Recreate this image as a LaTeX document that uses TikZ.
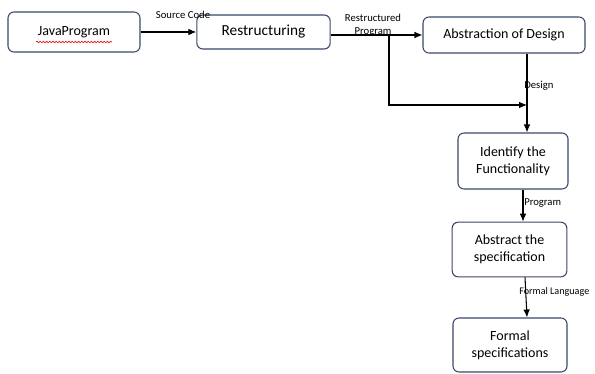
\documentclass[tikz,border=0pt]{standalone}
\usepackage{fontspec}
\setmainfont{Carlito}
\usetikzlibrary{positioning,arrows.meta,calc,decorations.pathmorphing}
\usepackage{xcolor}
\definecolor{slateborder}{RGB}{58,72,104}
\definecolor{squigglered}{RGB}{220,30,30}

\begin{document}
\begin{tikzpicture}[x=0.75pt,y=-0.75pt,
    stagebox/.style={draw=slateborder,line width=0.8pt,rounded corners=4.5pt,
      fill=white,align=center,font=\fontsize{10.5}{13}\selectfont,inner sep=1pt},
    flowlabel/.style={font=\fontsize{8}{9.5}\selectfont,inner sep=0pt,align=center},
    flow/.style={line width=0.8pt,-{Latex[length=6pt,width=5pt]}}]
  \useasboundingbox (0,0) rectangle (595,374);

  % boxes
  \node[stagebox,minimum width=99pt,minimum height=30pt] (java) at (74,32) {JavaProgram};
  \node[stagebox,minimum width=100pt,minimum height=25.5pt,
        font=\fontsize{11.5}{13}\selectfont] (restr) at (263.5,32) {Restructuring};
  \node[stagebox,minimum width=121.5pt,minimum height=27pt] (absdes) at (504,35) {Abstraction of Design};
  \node[stagebox,minimum width=82.5pt,minimum height=42pt] (ident) at (513,161) {Identify the\\Functionality};
  \node[stagebox,minimum width=86pt,minimum height=41pt] (absspec) at (509.5,249.5) {Abstract the\\specification};
  \node[stagebox,minimum width=85.5pt,minimum height=40.5pt] (formal) at (510,345) {Formal\\specifications};

  % spell-check underline
  \draw[squigglered,line width=0.5pt,decorate,
        decoration={snake,amplitude=0.6pt,segment length=2.4pt}]
    (36,42) -- (112,42);

  % connectors
  \coordinate (branch) at (389,35);
  \coordinate (dline) at (527,105);
  \draw[flow] (java) -- (restr);
  \draw[flow] (restr.east |- absdes.west) -- (absdes.west);
  \draw[line width=0.8pt] (absdes.south -| dline) -- (dline);
  \draw[flow] (dline) -- (ident.north -| dline);
  \draw[flow] (branch) |- (dline);
  \draw[flow] (523,0 |- ident.south) -- (523,0 |- absspec.north);
  \draw[flow] (525,0 |- absspec.south) -- (527,0 |- formal.north);

  % labels
  \node[flowlabel] (lsrc) at (183,15) {Source Code};
  \node[flowlabel] (lrestr) at (373,25) {Restructured\\Program};
  \node[flowlabel,anchor=west] (ldesign) at (524,86) {Design};
  \node[flowlabel,anchor=west] (lprog) at (524,203) {Program};
  \node[flowlabel,anchor=west,font=\fontsize{7.6}{9}\selectfont] (lform) at (519,292) {Formal Language};
\end{tikzpicture}
\end{document}
